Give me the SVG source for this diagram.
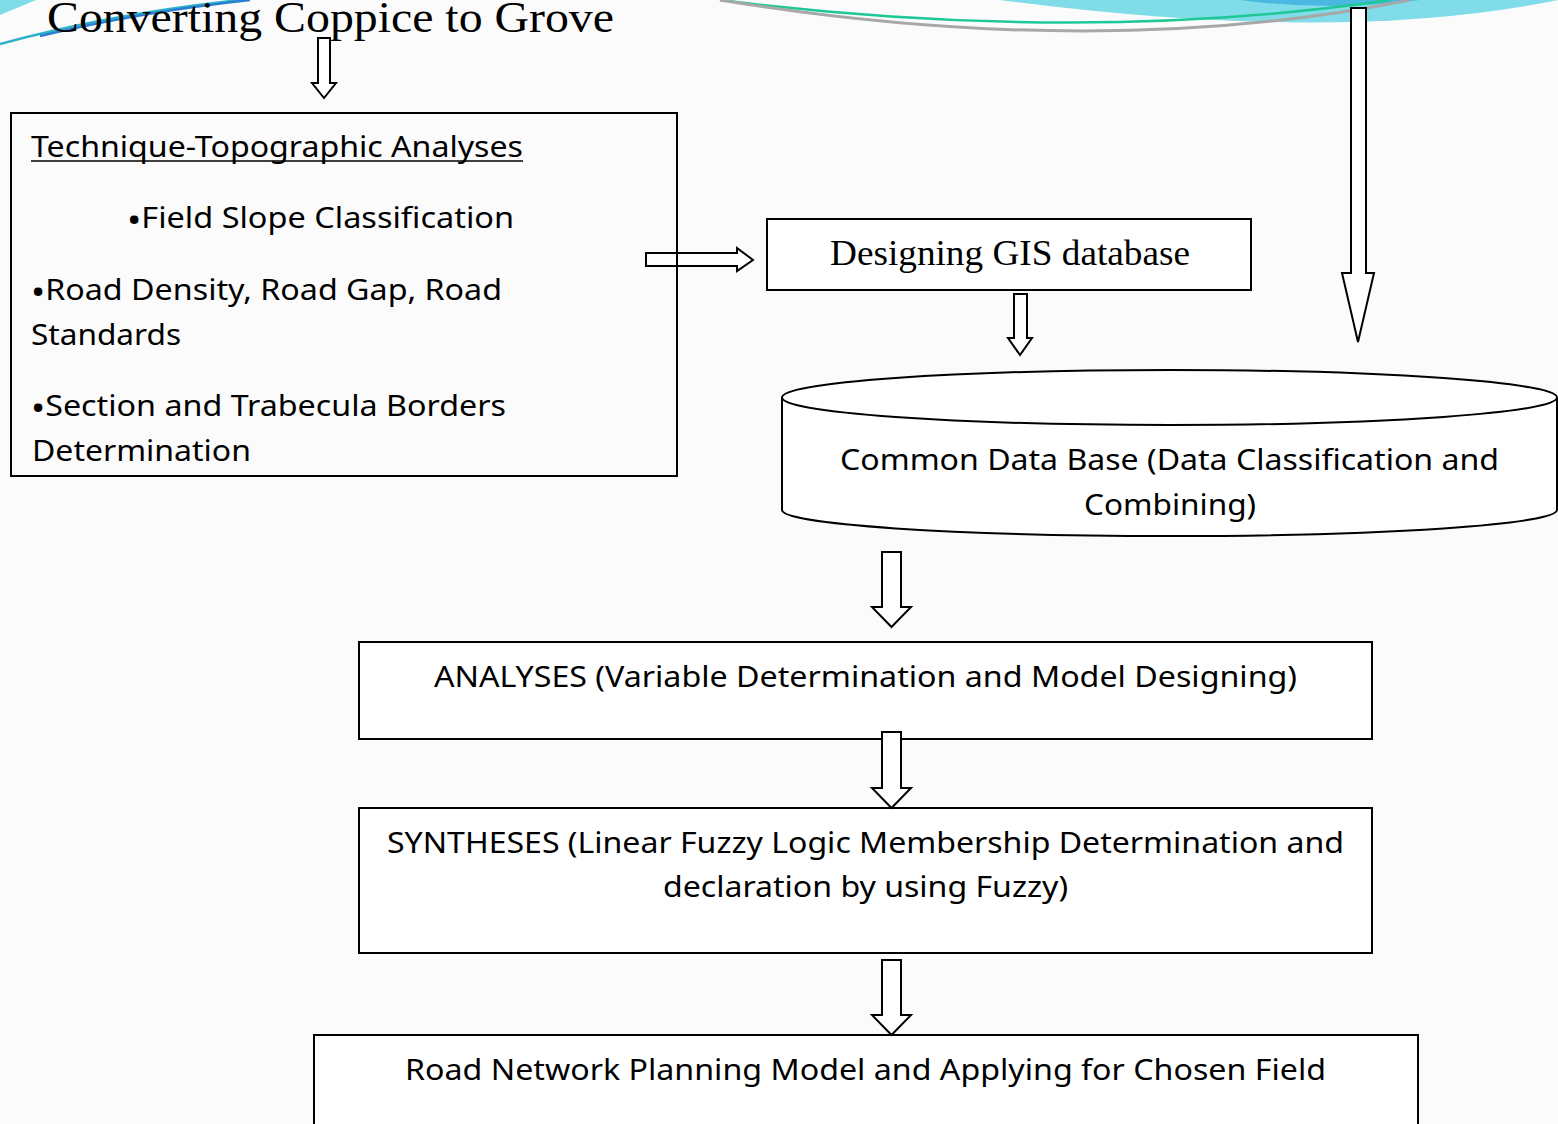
<svg xmlns="http://www.w3.org/2000/svg" width="1558" height="1124" viewBox="0 0 1558 1124">
<defs>
<style>
.box{fill:#ffffff;stroke:#000;stroke-width:2}
.frame{fill:none;stroke:#000;stroke-width:2}
.arr{fill:#ffffff;stroke:#000;stroke-width:2;stroke-linejoin:miter}
.t{font-family:"Noto Sans","Open Sans",sans-serif;font-size:29px;fill:#000}
.s{font-family:"Liberation Serif","Times New Roman",serif;fill:#000}
.b{font-size:34px}
</style>
</defs>
<rect x="0" y="0" width="1558" height="1124" fill="#fbfbfb"/>
<g id="decoration">
<path d="M0,0 L36,0 L0,15 Z" fill="#7fdce8"/>
<path d="M0,44 Q110,14 240,0" fill="none" stroke="#2fb0c8" stroke-width="2.5"/>
<path d="M40,36 Q140,12 250,0" fill="none" stroke="#2a7fd0" stroke-width="2.5"/>
<path d="M1000,0 Q1340,45 1558,0 Z" fill="#7fdce8"/>
<path d="M1240,0 Q1330,12 1420,0 Z" fill="#4ab8e0"/>
<path d="M720,0 Q1080,45 1390,0" fill="none" stroke="#1ec896" stroke-width="2.5"/>
<path d="M720,0 Q1100,62 1410,0" fill="none" stroke="#a8a8a8" stroke-width="3"/>
</g>
<text id="title" class="s" x="47" y="32" font-size="44" textLength="567" lengthAdjust="spacingAndGlyphs">Converting Coppice to Grove</text>
<g id="connectors">
<path class="arr" d="M318,38 L330,38 L330,83 L336,83 L324,98 L312,83 L318,83 Z"/>
<path class="arr" d="M646,253 L737,253 L737,248 L753,260 L737,271 L737,266 L646,266 Z"/>
<path class="arr" d="M1351,8 L1366,8 L1366,273 L1374,273 L1358,342 L1342,273 L1351,273 Z"/>
<path class="arr" d="M1014,294 L1027,294 L1027,338 L1032,338 L1020,355 L1008,338 L1014,338 Z"/>
<path class="arr" d="M882,552 L901,552 L901,607 L911,607 L891.5,627 L872,607 L882,607 Z"/>
</g>
<g id="technique">
<rect class="frame" x="11" y="113" width="666" height="363"/>
<text class="t" x="31" y="157" textLength="492" lengthAdjust="spacingAndGlyphs">Technique-Topographic Analyses</text>
<line x1="31" y1="161" x2="523" y2="161" stroke="#000" stroke-width="1.5"/>
<text class="t" x="127" y="228" textLength="387" lengthAdjust="spacingAndGlyphs"><tspan class="b" dy="4">•</tspan><tspan dy="-4">Field Slope Classification</tspan></text>
<text class="t" x="31" y="300" textLength="471" lengthAdjust="spacingAndGlyphs"><tspan class="b" dy="4">•</tspan><tspan dy="-4">Road Density, Road Gap, Road</tspan></text>
<text class="t" x="31" y="345" textLength="150" lengthAdjust="spacingAndGlyphs">Standards</text>
<text class="t" x="31" y="416" textLength="475" lengthAdjust="spacingAndGlyphs"><tspan class="b" dy="4">•</tspan><tspan dy="-4">Section and Trabecula Borders</tspan></text>
<text class="t" x="32" y="461" textLength="219" lengthAdjust="spacingAndGlyphs">Determination</text>
</g>
<g id="gis">
<rect class="box" x="767" y="219" width="484" height="71"/>
<text class="s" x="830" y="265" font-size="36" textLength="360" lengthAdjust="spacingAndGlyphs">Designing GIS database</text>
</g>
<g id="database">
<path class="box" d="M782,397 L782,510 A387.5,26 0 0 0 1557,510 L1557,397"/>
<ellipse class="box" cx="1169.5" cy="397.5" rx="387.5" ry="27.5"/>
<text class="t" x="840" y="470" textLength="659" lengthAdjust="spacingAndGlyphs">Common Data Base (Data Classification and</text>
<text class="t" x="1084" y="515" textLength="172" lengthAdjust="spacingAndGlyphs">Combining)</text>
</g>
<g id="analyses">
<rect class="box" x="359" y="642" width="1013" height="97"/>
<text class="t" x="434" y="687" textLength="863" lengthAdjust="spacingAndGlyphs">ANALYSES (Variable Determination and Model Designing)</text>
</g>
<g id="syntheses">
<rect class="box" x="359" y="808" width="1013" height="145"/>
<text class="t" x="387" y="853" textLength="957" lengthAdjust="spacingAndGlyphs">SYNTHESES (Linear Fuzzy Logic Membership Determination and</text>
<text class="t" x="663" y="897" textLength="405" lengthAdjust="spacingAndGlyphs">declaration by using Fuzzy)</text>
</g>
<g id="road">
<rect class="box" x="314" y="1035" width="1104" height="100"/>
<text class="t" x="405" y="1080" textLength="921" lengthAdjust="spacingAndGlyphs">Road Network Planning Model and Applying for Chosen Field</text>
</g>
<g id="connectors2">
<path class="arr" d="M882,732 L901,732 L901,788 L911,788 L891.5,808 L872,788 L882,788 Z"/>
<path class="arr" d="M882,960 L901,960 L901,1015 L911,1015 L891.5,1035 L872,1015 L882,1015 Z"/>
</g>
</svg>
